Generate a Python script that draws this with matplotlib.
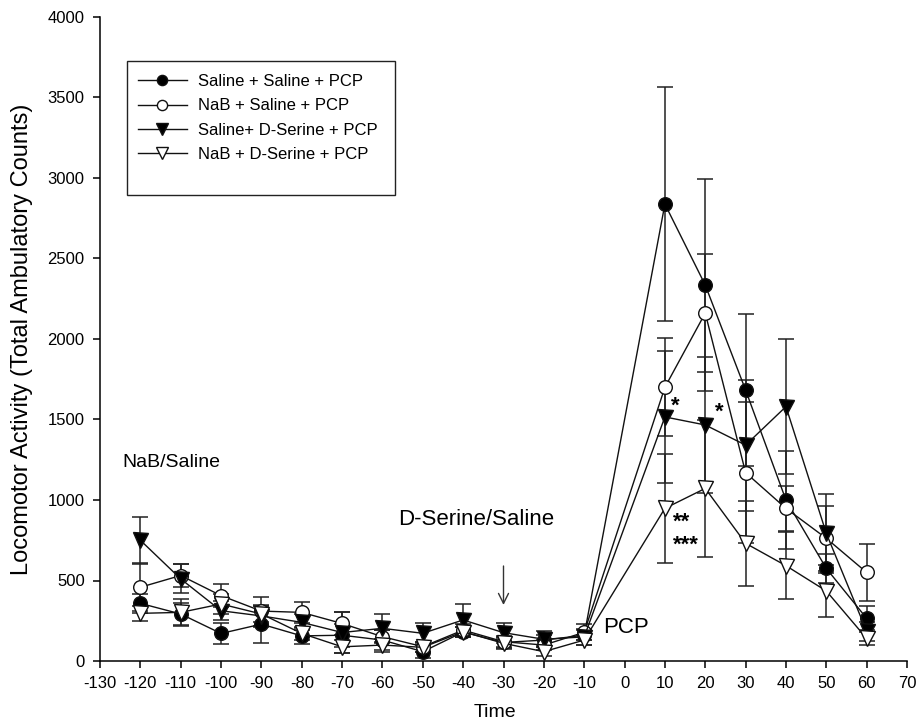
import matplotlib
matplotlib.use("Agg")
import matplotlib.pyplot as plt
from matplotlib.lines import Line2D
from matplotlib.patches import Rectangle

plt.rcParams['font.family'] = ['Liberation Sans', 'DejaVu Sans']
plt.rcParams['axes.unicode_minus'] = False

times = [-120, -110, -100, -90, -80, -70, -60, -50, -40, -30, -20, -10, 10, 20, 30, 40, 50, 60]

sal_sal = [358, 292, 171, 229, 156, 160, 130, 58, 180, 115, 130, 160, 2838, 2335, 1683, 1000, 575, 265]
sal_sal_err = [60, 70, 65, 115, 50, 70, 60, 40, 30, 40, 30, 30, 726, 660, 472, 306, 90, 75]

nab_sal = [458, 531, 406, 310, 302, 233, 151, 89, 192, 120, 99, 178, 1700, 2161, 1170, 948, 762, 550]
nab_sal_err = [150, 70, 70, 90, 63, 70, 40, 30, 40, 30, 30, 50, 305, 367, 440, 140, 200, 175]

sal_dser = [750, 510, 312, 280, 240, 177, 203, 172, 255, 176, 135, 150, 1516, 1466, 1341, 1580, 793, 185]
sal_dser_err = [146, 90, 60, 70, 50, 125, 87, 62, 97, 62, 51, 50, 409, 422, 407, 420, 244, 60]

nab_dser = [296, 302, 354, 292, 171, 88, 99, 85, 182, 110, 58, 130, 948, 1072, 731, 592, 435, 140]
nab_dser_err = [46, 83, 60, 50, 40, 40, 40, 30, 30, 30, 30, 30, 340, 424, 265, 210, 160, 40]

labels = ["Saline + Saline + PCP", "NaB + Saline + PCP", "Saline+ D-Serine + PCP", "NaB + D-Serine + PCP"]
xticks = list(range(-130, 71, 10))
yticks = list(range(0, 4001, 500))

W, H = 917, 720
fig = plt.figure(figsize=(W/100, H/100), dpi=100)
ax = fig.add_axes([100/W, 1-661/H, 807/W, 644/H])

series = [
    (sal_sal, sal_sal_err, 'o', 'black', 9.8),
    (nab_sal, nab_sal_err, 'o', 'white', 9.8),
    (sal_dser, sal_dser_err, 'v', 'black', 10.8),
    (nab_dser, nab_dser_err, 'v', 'white', 10.8),
]
handles = []
for (vals, errs, m, fc, ms), lab in zip(series, labels):
    ax.errorbar(times, vals, yerr=errs, fmt='none', ecolor='#222222', elinewidth=1.1,
                capsize=5.5, capthick=1.1, zorder=2)
    ax.plot(times, vals, color='#111111', lw=1.0, marker=m, markersize=ms,
            markerfacecolor=fc, markeredgecolor='#111111', markeredgewidth=1.0, zorder=3)
    handles.append(Line2D([], [], color='#111111', lw=1.0, marker=m, markersize=ms*0.75,
                          markerfacecolor=fc, markeredgecolor='#111111'))

ax.set_xlim(-130, 70)
ax.set_ylim(0, 4000)
ax.set_xticks(xticks)
ax.set_yticks(yticks)
ax.tick_params(direction='out', length=5, width=1.1, labelsize=12, pad=6)
for s in ['top', 'right']:
    ax.spines[s].set_visible(False)
for s in ['left', 'bottom']:
    ax.spines[s].set_linewidth(1.1)

ax.set_xlabel("Time", fontsize=14)
ax.set_ylabel("Locomotor Activity (Total Ambulatory Counts)", fontsize=17)
ax.xaxis.set_label_coords(0.49, -0.066)
ax.yaxis.set_label_coords(-0.083, 0.5)

# legend: frame drawn as a rectangle in figure pixels, entries as a frameless legend
fig.patches.append(Rectangle((127/W, 1-195/H), (395-127)/W, (195-61)/H,
                             transform=fig.transFigure, fill=False,
                             edgecolor='#222222', lw=1.0, zorder=5))
leg = ax.legend(handles, labels, loc='upper left', bbox_to_anchor=(138/W, 1-74/H),
                bbox_transform=fig.transFigure, fontsize=12, handlelength=2.93,
                handletextpad=0.66, labelspacing=0.56, borderpad=0, borderaxespad=0,
                frameon=False)

ax.text(-124.5, 1230, "NaB/Saline", fontsize=14, ha='left', va='center')
ax.text(-36.8, 880, "D-Serine/Saline", fontsize=16, ha='center', va='center')
ax.annotate("", xy=(-30, 348), xytext=(-30, 590),
            arrowprops=dict(arrowstyle='->', color='#333333', lw=1.0, mutation_scale=18,
                            shrinkA=0, shrinkB=0))
ax.text(-5.3, 211, "PCP", fontsize=16, ha='left', va='center')

ax.text(12.5, 1580, "*", fontsize=16, fontweight='bold', ha='center', va='center')
ax.text(23.4, 1548, "*", fontsize=16, fontweight='bold', ha='center', va='center')
ax.text(12, 864, "**", fontsize=16, fontweight='bold', ha='left', va='center')
ax.text(12, 721, "***", fontsize=16, fontweight='bold', ha='left', va='center')

fig.savefig("out.png", dpi=100)
